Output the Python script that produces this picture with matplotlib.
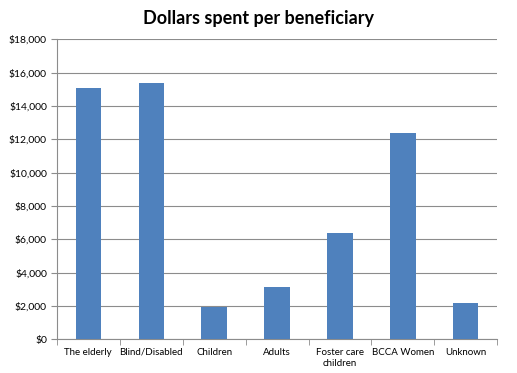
import matplotlib.pyplot as plt
from matplotlib.ticker import FuncFormatter, MultipleLocator

categories = ['The elderly', 'Blind/Disabled', 'Children', 'Adults',
              'Foster care\nchildren', 'BCCA Women', 'Unknown']
spending = [15050, 15350, 1960, 3120, 6360, 12380, 2200]

plt.rcParams['font.family'] = ['Lato', 'DejaVu Sans']

fig = plt.figure(figsize=(5.17, 3.73), dpi=100)
ax = fig.add_axes([0.1097, 0.0903, 0.8523, 0.8043])

x = list(range(len(categories)))
ax.bar(x, spending, width=0.4, color='#4F81BD', zorder=3)

ax.set_xlim(-0.5, len(categories) - 0.5)
ax.set_ylim(0, 18000)
ax.yaxis.set_major_locator(MultipleLocator(2000))
ax.yaxis.set_major_formatter(FuncFormatter(lambda v, p: '${:,.0f}'.format(v)))
ax.grid(axis='y', color='#8C8C8C', linewidth=0.8, zorder=0)

ax.set_xticks(x)
ax.set_xticklabels(categories, fontsize=7, linespacing=1.3)
ax.tick_params(axis='x', length=0, pad=6)
ax.set_xticks([i + 0.5 for i in range(-1, len(categories))], minor=True)
ax.tick_params(axis='x', which='minor', length=4, color='#8C8C8C', direction='out')
ax.tick_params(axis='y', labelsize=7.5, length=4, color='#8C8C8C', pad=3)

for side in ['top', 'right']:
    ax.spines[side].set_visible(False)
for side in ['left', 'bottom']:
    ax.spines[side].set_color('#8C8C8C')
    ax.spines[side].set_linewidth(0.8)

fig.text(0.5, 0.95, 'Dollars spent per beneficiary', ha='center', va='center',
         fontsize=13, fontweight='bold')

fig.savefig('out.png', dpi=100)
